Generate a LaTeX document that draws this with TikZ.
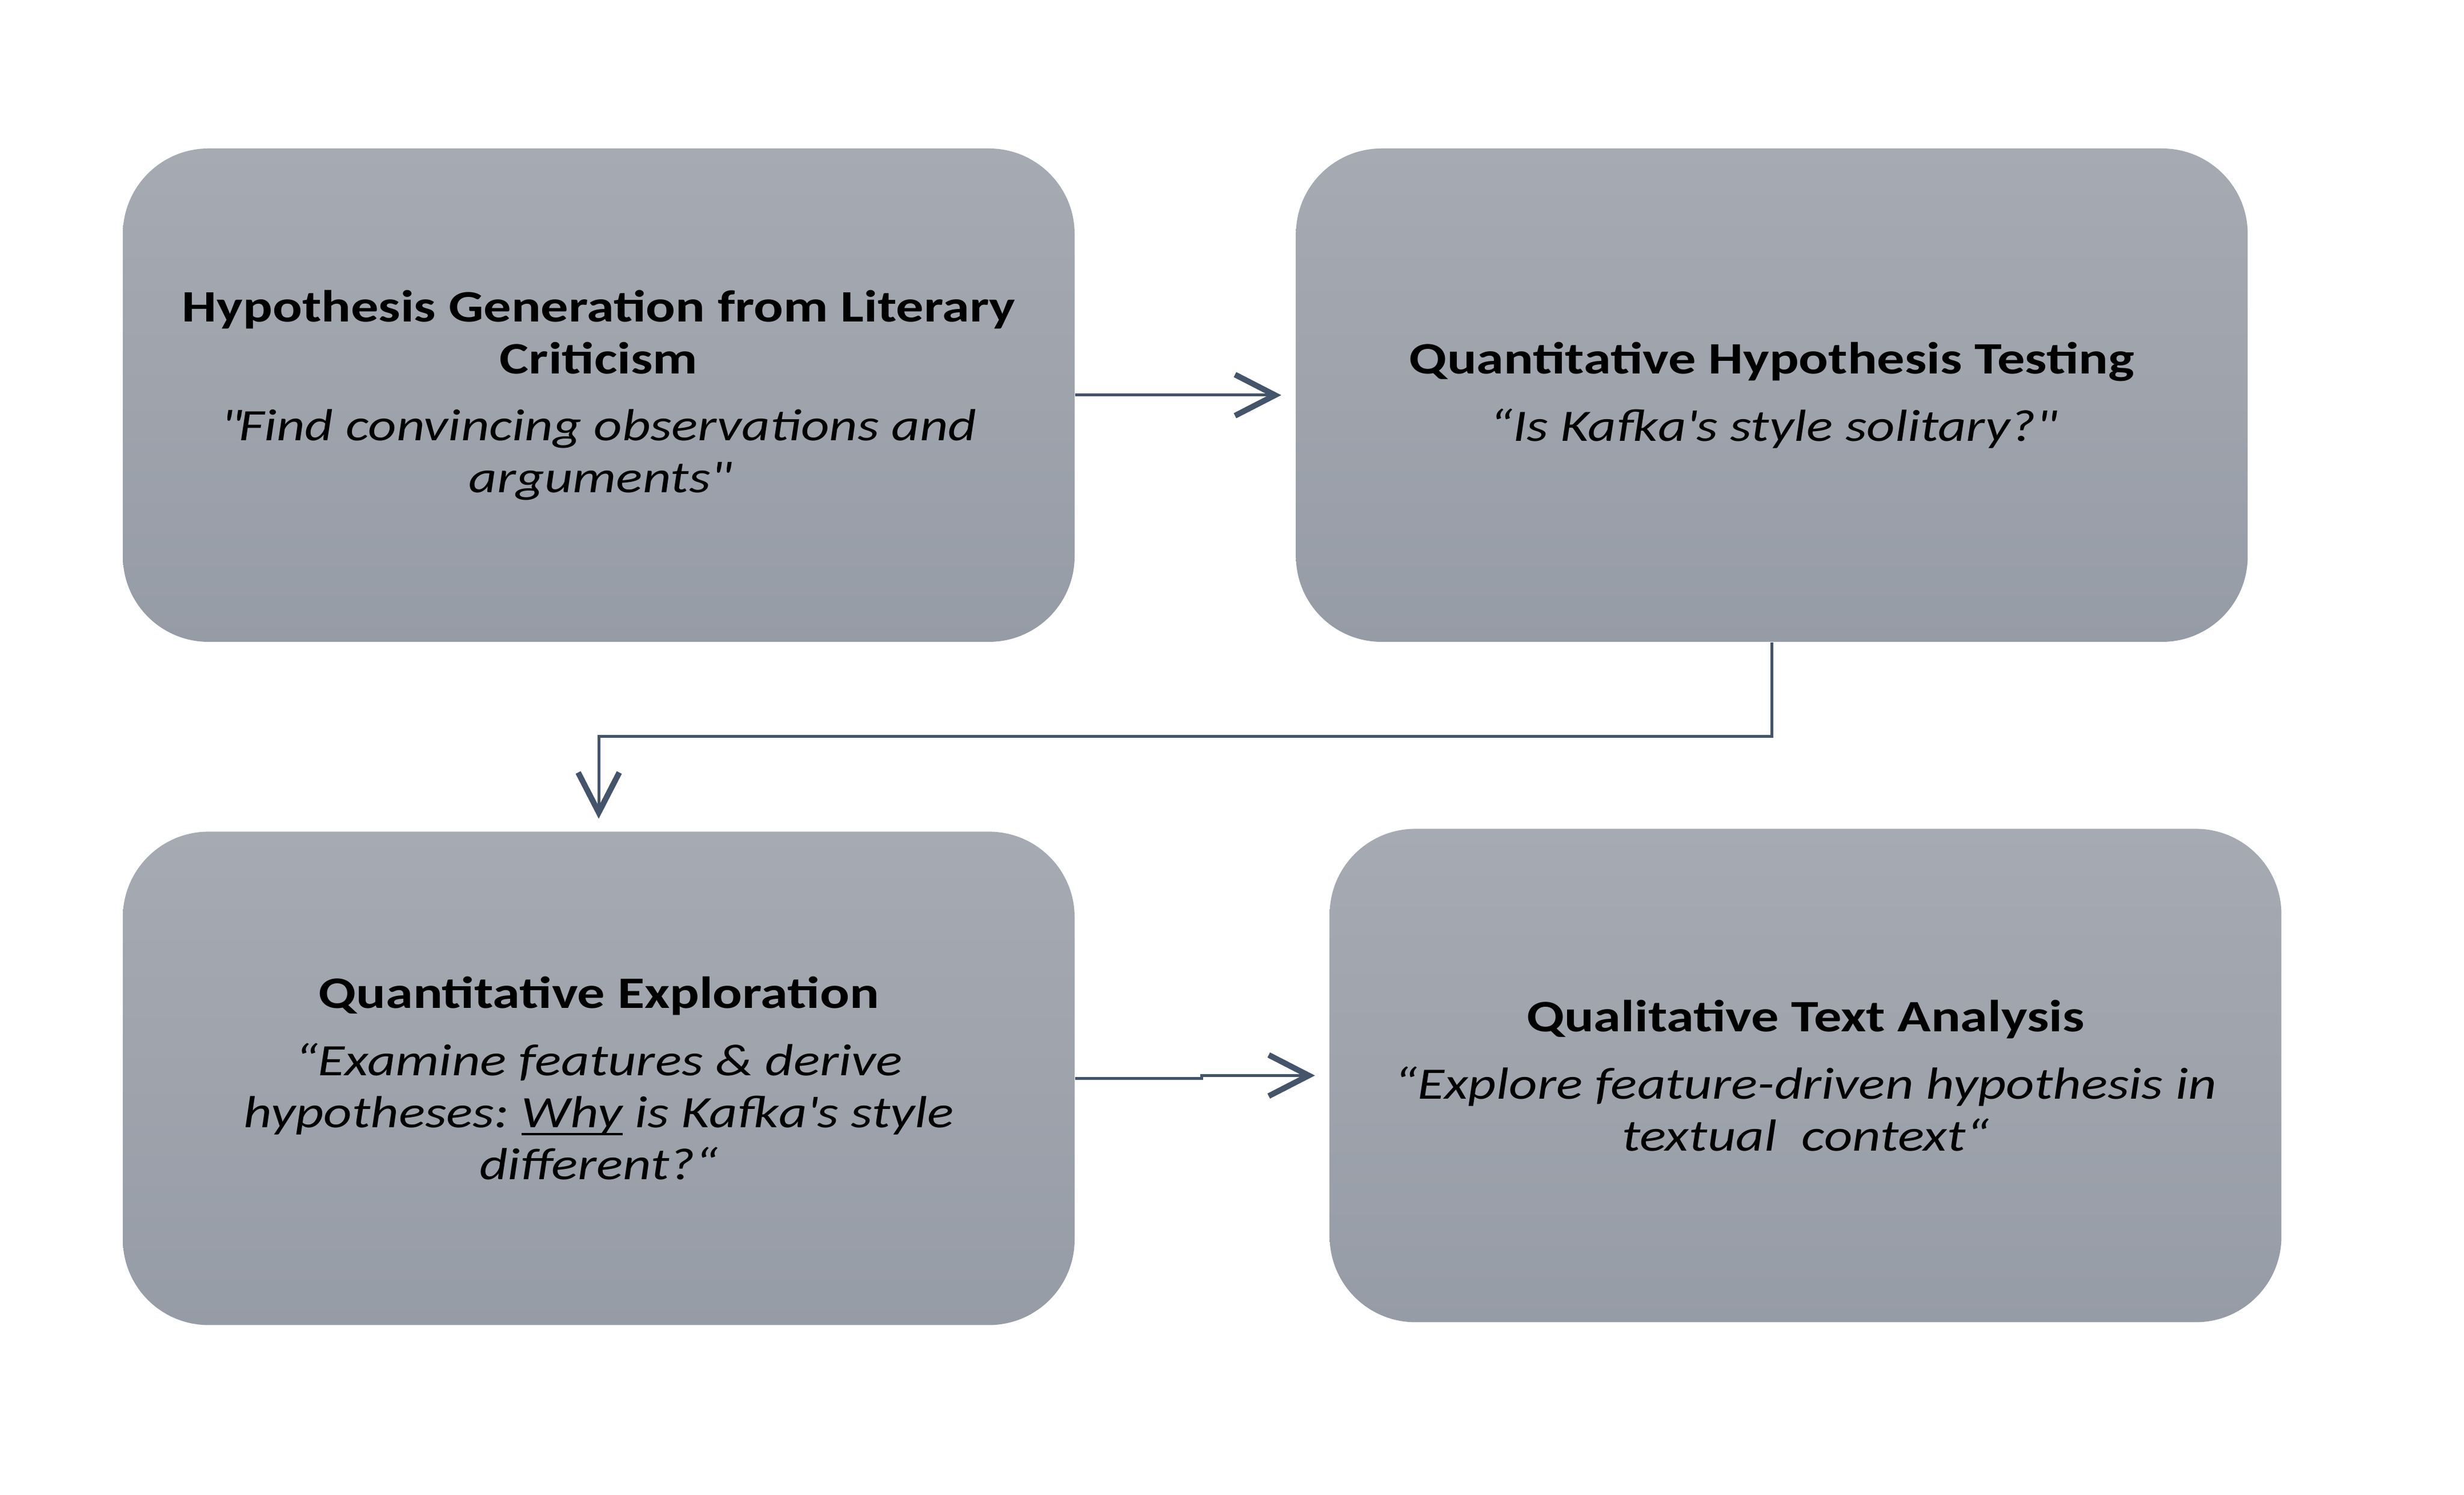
\documentclass[tikz,border=0pt]{standalone}
\usepackage{fontspec}
\setmainfont{Carlito}[FakeStretch=1.225]
\usepackage{tikz}
\usetikzlibrary{positioning,arrows.meta}
\definecolor{stagetop}{RGB}{166,170,178}
\definecolor{stagebottom}{RGB}{150,156,166}
\definecolor{flowblue}{RGB}{68,84,106}
\frenchspacing
\newcommand{\uword}[1]{\setbox0\hbox{#1}\rlap{\vrule width\wd0 height -2.6pt depth 3.8pt}\box0\relax}
\tikzstyle{stage}=[
    rectangle,
    rounded corners=1.5cm,
    minimum width=16.66cm,
    minimum height=8.64cm,
    top color=stagetop,
    bottom color=stagebottom,
    align=center,
    font=\fontsize{22.4}{25.9}\selectfont
]
\tikzstyle{flow}=[
    draw=flowblue,
    line width=0.05cm,
    -{Straight Barb[length=0.7cm,width=0.72cm,line width=0.1cm]}
]
\begin{document}
\begin{tikzpicture}
\useasboundingbox (0,0) rectangle (43.13,26.17);

\node[stage] (gen) at (10.48,19.25) {\textbf{Hypothesis Generation from Literary}\\\textbf{Criticism}\\[7.6pt]
    \textit{\textquotedbl Find convincing observations and}\\\textit{arguments\textquotedbl}};
\node[stage, right=3.86cm of gen] (test) {\textbf{Quantitative Hypothesis Testing}\\[7.6pt]
    \textit{“Is Kafka\textquotesingle s style solitary?\textquotedbl}};
\node[stage, below=3.31cm of gen] (expl) {\textbf{Quantitative Exploration}\\[7.6pt]
    \textit{“Examine features \& derive}\\\textit{hypotheses: \uword{Why} is Kafka\textquotesingle s style}\\\textit{different?“}};
\node[stage, right=4.45cm of expl, yshift=0.05cm] (qual) {\textbf{Qualitative Text Analysis}\\[7.6pt]
    \textit{“Explore feature-driven hypothesis in}\\\textit{textual\ \ context“}};

\draw[flow, shorten >=0.25cm] (gen.east) -- (test.west);
\draw[flow, shorten >=0.22cm] (test.south) -- ++(0,-1.65) -| (expl.north);
\draw[flow, shorten >=0.25cm] (expl.east) -- ++(2.22,0) |- (qual.west);

\end{tikzpicture}
\end{document}
